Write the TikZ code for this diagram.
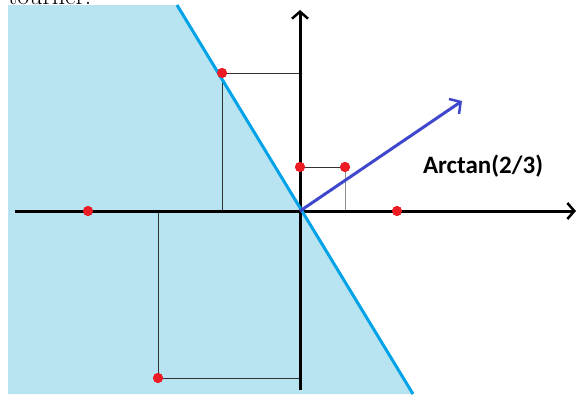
\documentclass[tikz,border=0pt]{standalone}
\usepackage{fontspec}
\newfontfamily\calibri{Carlito}
\usetikzlibrary{arrows.meta}
\definecolor{shadecol}{HTML}{B8E3F0}
\definecolor{bline}{HTML}{00A2E8}
\definecolor{dotred}{HTML}{ED1C24}
\definecolor{indigo}{HTML}{3F48CC}
\tikzset{
  axis/.style={line width=3pt, -{Straight Barb[length=7pt,width=16pt,line width=2.5pt]}},
  guide/.style={line width=1pt, draw=black!80},
  dot/.style={circle, fill=dotred, inner sep=0pt, minimum size=10pt},
  vec/.style={line width=3pt, draw=indigo, -{Straight Barb[length=8pt,width=18pt,line width=2.5pt]}},
}
\begin{document}
\begin{tikzpicture}[x=1pt,y=-1pt]
\useasboundingbox (0,0) rectangle (576,394);
\begin{scope}
\clip (0,0) rectangle (576,394);
\node[anchor=base west, inner sep=0pt, font=\fontsize{26}{28}\selectfont] (txt) at (8,4) {tourner.};
\fill[white] (0,5) rectangle (576,394);
\fill[shadecol] (8,5) -- (177,5) -- (413,394) -- (8,394) -- cycle;
\end{scope}
% coordinates
\coordinate (O) at (300,211);
\coordinate (xl) at (15,211);
\coordinate (xr) at (576,211);
\coordinate (yb) at (300,390);
\coordinate (yt) at (300,10);
\coordinate (lt) at (177,5);
\coordinate (lb) at (413,394);
% guide lines
\node[dot] (p1) at (222,73) {};
\node[dot] (p2) at (300,167) {};
\node[dot] (p3) at (345,167) {};
\node[dot] (p4) at (158,378) {};
\node[dot] (p5) at (88,211) {};
\node[dot] (p6) at (397,211) {};
\coordinate (g1) at (222,211);
\coordinate (g2) at (300,73);
\coordinate (g3) at (345,211);
\coordinate (g4) at (158,211);
\coordinate (g5) at (300,378);
\draw[guide] (g2) -- (p1.center) -- (g1);
\draw[guide] (p2.center) -- (p3.center);
\draw[guide, draw=black!45] (p3.center) -- (g3);
\draw[guide] (g4) -- (p4.center) -- (g5);
% axes
\draw[axis] (xl) -- (xr);
\draw[axis] (yb) -- (yt);
% boundary line
\draw[bline, line width=3pt] (lt) -- (lb);
% redraw dots on top
\foreach \p in {p1,p2,p3,p4,p5,p6} \fill[dotred] (\p.center) circle (5pt);
% vector
\coordinate (vt) at (462,101);
\draw[vec] (O) -- (vt);
\node[font=\calibri\bfseries\fontsize{25}{28}\selectfont, inner sep=0pt] (lab) at (483,166) {Arctan(2/3)};
\end{tikzpicture}
\end{document}
